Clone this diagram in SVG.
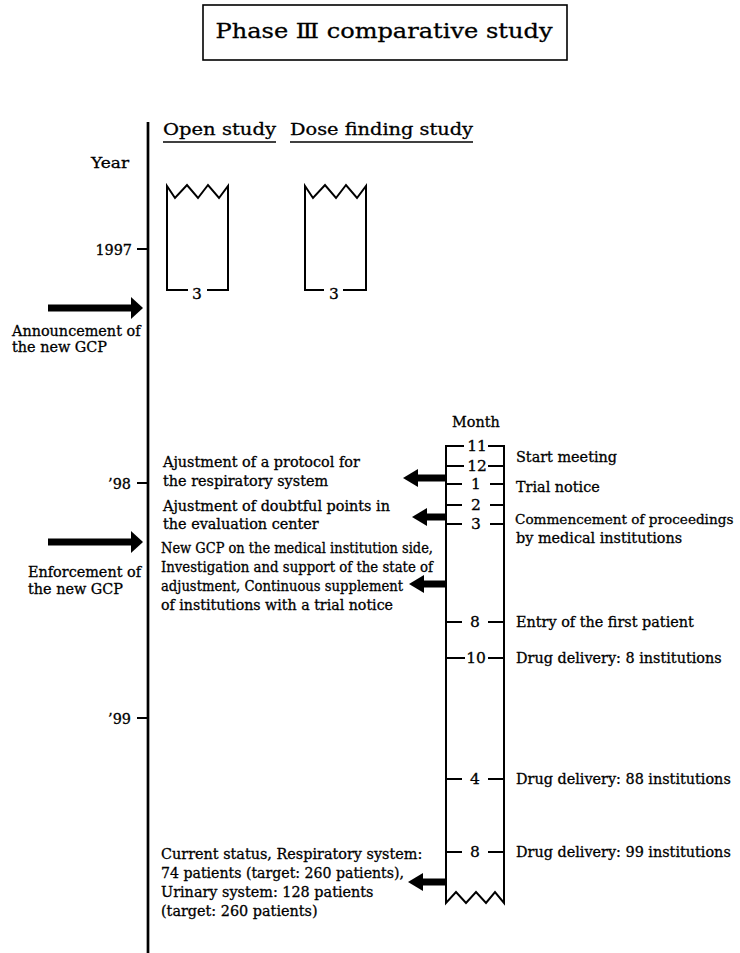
<svg xmlns="http://www.w3.org/2000/svg" width="740" height="953" viewBox="0 0 740 953">
<style>
text{font-family:"DejaVu Serif","Liberation Serif",serif;fill:#000;stroke:#000;stroke-width:0.3px}
.t{font-size:14.4px}
.n{font-size:15.5px;text-anchor:middle}
.h{font-size:17px}
.ln{stroke:#000;stroke-width:2;fill:none}
.ax{stroke:#000;stroke-width:2.7;fill:none}
.ul{stroke:#000;stroke-width:1.3}
.hd{fill:#000}
</style>
<rect width="740" height="953" fill="#fff"/>

<g id="title">
<rect x="203" y="5" width="364" height="55" fill="none" stroke="#000" stroke-width="1.6"/>
<text x="384" y="38" font-size="20.5" text-anchor="middle" textLength="337" lengthAdjust="spacingAndGlyphs">Phase Ⅲ comparative study</text>
</g>

<g id="timeline-axis">
<line class="ax" x1="148" y1="122" x2="148" y2="953"/>
<text class="t" x="91" y="168" textLength="38" lengthAdjust="spacingAndGlyphs">Year</text>
<line class="ln" x1="137" y1="249" x2="148" y2="249"/>
<text class="t" x="132" y="255" text-anchor="end">1997</text>
<line class="ln" x1="137" y1="483" x2="148" y2="483"/>
<text class="t" x="131" y="489" text-anchor="end">’98</text>
<line class="ln" x1="137" y1="718" x2="148" y2="718"/>
<text class="t" x="131" y="724" text-anchor="end">’99</text>
</g>

<g id="open-study">
<text class="h" x="163" y="135" textLength="113" lengthAdjust="spacingAndGlyphs">Open study</text>
<line class="ul" x1="163" y1="142" x2="276" y2="142"/>
<path class="ln" d="M188,290 L167,290 L167,186 L175,198 L187,185 L198,198 L208,185 L219,198 L228,186 L228,290 L207,290"/>
<text class="n" x="197" y="299">3</text>
</g>

<g id="dose-finding-study">
<text class="h" x="290" y="135" textLength="183" lengthAdjust="spacingAndGlyphs">Dose finding study</text>
<line class="ul" x1="290" y1="142" x2="473" y2="142"/>
<path class="ln" d="M324,290 L305,290 L305,186 L313,198 L325,185 L336,198 L346,185 L357,198 L366,186 L366,290 L343,290"/>
<text class="n" x="334" y="299">3</text>
</g>

<g id="announcement">
<text class="t" x="12" y="336">Announcement of</text>
<text class="t" x="12" y="352">the new GCP</text>
</g>

<g id="enforcement">
<text class="t" x="28" y="577">Enforcement of</text>
<text class="t" x="28" y="594">the new GCP</text>
</g>

<g id="month-column">
<text class="t" x="452" y="427">Month</text>
<path class="ln" d="M464,446 L446,446 L446,903 L456,892 L466,903 L476,892 L486,903 L495,892 L504,903 L504,446 L488,446"/>
<text class="n" x="477" y="451">11</text>
<path class="ln" d="M446,466 L464,466 M488,466 L504,466"/>
<text class="n" x="477" y="471">12</text>
<path class="ln" d="M446,484 L462,484 M490,484 L504,484"/>
<text class="n" x="476" y="489">1</text>
<path class="ln" d="M446,505 L462,505 M490,505 L504,505"/>
<text class="n" x="476" y="510">2</text>
<path class="ln" d="M446,524 L462,524 M490,524 L504,524"/>
<text class="n" x="476" y="529">3</text>
<path class="ln" d="M446,622 L462,622 M488,622 L504,622"/>
<text class="n" x="475" y="627">8</text>
<path class="ln" d="M446,658 L465,658 M488,658 L504,658"/>
<text class="n" x="476" y="663">10</text>
<path class="ln" d="M446,779 L462,779 M488,779 L504,779"/>
<text class="n" x="475" y="784">4</text>
<path class="ln" d="M446,852 L462,852 M488,852 L504,852"/>
<text class="n" x="475" y="857">8</text>
</g>

<g id="month-events">
<text class="t" x="516" y="462">Start meeting</text>
<text class="t" x="516" y="492">Trial notice</text>
<text x="515" y="524" font-size="13.6">Commencement of proceedings</text>
<text class="t" x="516" y="543">by medical institutions</text>
<text class="t" x="516" y="627">Entry of the first patient</text>
<text class="t" x="516" y="663">Drug delivery: 8 institutions</text>
<text class="t" x="516" y="784">Drug delivery: 88 institutions</text>
<text class="t" x="516" y="857">Drug delivery: 99 institutions</text>
</g>

<g id="note-protocol">
<text class="t" x="163" y="467">Ajustment of a protocol for</text>
<text class="t" x="163" y="486">the respiratory system</text>
</g>

<g id="note-doubtful">
<text class="t" x="163" y="511">Ajustment of doubtful points in</text>
<text class="t" x="163" y="529">the evaluation center</text>
</g>

<g id="note-new-gcp">
<text class="t" x="161" y="553" textLength="272" lengthAdjust="spacingAndGlyphs">New GCP on the medical institution side,</text>
<text class="t" x="161" y="572" textLength="272" lengthAdjust="spacingAndGlyphs">Investigation and support of the state of</text>
<text class="t" x="161" y="591" textLength="242" lengthAdjust="spacingAndGlyphs">adjustment, Continuous supplement</text>
<text class="t" x="161" y="610" textLength="232" lengthAdjust="spacingAndGlyphs">of institutions with a trial notice</text>
</g>

<g id="note-status">
<text class="t" x="161" y="859">Current status, Respiratory system:</text>
<text class="t" x="161" y="878" textLength="243" lengthAdjust="spacingAndGlyphs">74 patients (target: 260 patients),</text>
<text class="t" x="161" y="897">Urinary system: 128 patients</text>
<text class="t" x="161" y="916">(target: 260 patients)</text>
</g>

<g id="connectors">
<rect class="hd" x="48" y="304.5" width="84" height="7"/>
<polygon class="hd" points="131,297 143,308 131,319"/>
<rect class="hd" x="48" y="538.5" width="84" height="7"/>
<polygon class="hd" points="131,531 143,542 131,553"/>
<rect class="hd" x="416" y="474.5" width="30" height="7"/>
<polygon class="hd" points="418,469 403,478 418,487"/>
<rect class="hd" x="425" y="513.5" width="21" height="7"/>
<polygon class="hd" points="427,508 412,517 427,526"/>
<rect class="hd" x="422" y="580.5" width="24" height="7"/>
<polygon class="hd" points="424,575 409,584 424,593"/>
<rect class="hd" x="421" y="878.5" width="25" height="7"/>
<polygon class="hd" points="423,873 408,882 423,891"/>
</g>
</svg>
